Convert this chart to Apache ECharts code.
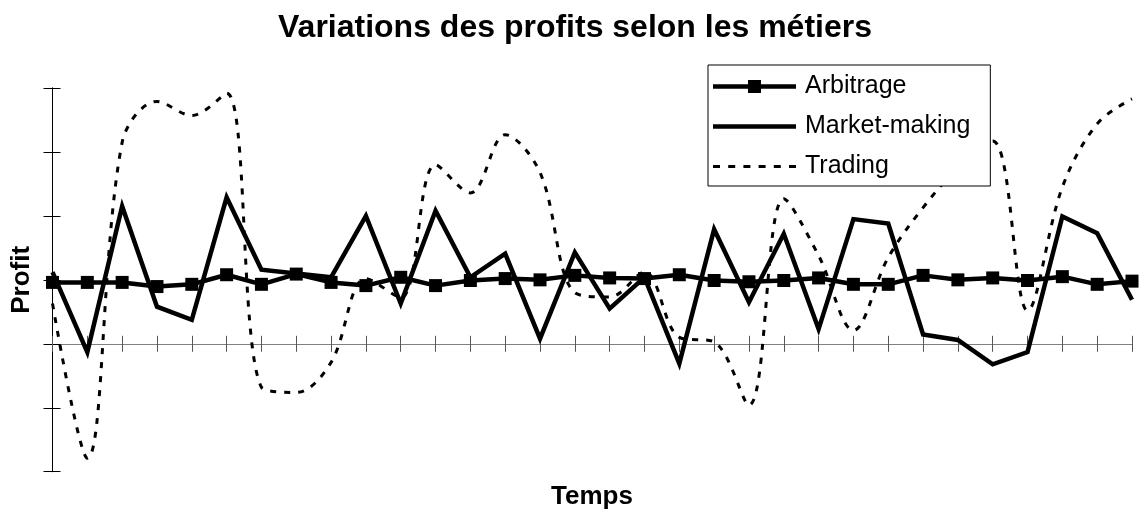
<!DOCTYPE html>
<html>
<head>
<meta charset="utf-8">
<script src="https://cdn.jsdelivr.net/npm/echarts@6/dist/echarts.min.js"></script>
<style>
html,body{margin:0;padding:0;background:#fff;}
#chart{width:1140px;height:513px;}
</style>
</head>
<body>
<div id="chart"></div>
<script>
var categories = [];
for (var k = 1; k <= 32; k++) categories.push(String(k));

var arbitrage = [0.96,0.96,0.96,0.895,0.93,1.08,0.93,1.09,0.96,0.91,1.04,0.91,0.99,1.02,1.0,1.07,1.03,1.02,1.08,0.99,0.97,0.99,1.03,0.93,0.93,1.07,1.0,1.03,0.99,1.05,0.93,0.98];
var marketMaking = [1.12,-0.13,2.15,0.58,0.375,2.29,1.16,1.1,1.04,2.0,0.63,2.08,1.04,1.41,0.08,1.43,0.55,1.04,-0.31,1.79,0.65,1.72,0.23,1.95,1.88,0.145,0.06,-0.32,-0.13,1.99,1.73,0.69];
var trading = [0.63,-1.79,3.15,3.79,3.57,3.92,-0.68,-0.76,-0.29,1.02,0.72,2.8,2.36,3.27,2.68,0.8,0.73,1.12,0.1,0.03,-0.96,2.27,1.38,0.21,1.35,2.13,2.75,3.17,0.52,2.45,3.44,3.83];

var FONT = '"Liberation Sans", Arial, sans-serif';
var chart = echarts.init(document.getElementById('chart'), null, {renderer: 'canvas'});

// legend icon shapes (line samples)
var iconArbitrage = 'path://M0 4.25H83V8.75H0Z M35 0H48V13H35Z';
var iconMarket = 'path://M0 0H83V4.5H0Z';
var dashParts = [];
for (var d = 0; d < 6; d++) {
  var x0 = (d * 15.2).toFixed(1);
  dashParts.push('M' + x0 + ' 0h7v3h-7Z');
}
var iconTrading = 'path://' + dashParts.join(' ');

var xBase = {
  type: 'category', data: categories, boundaryGap: false, position: 'bottom',
  axisLine: {show: true, onZero: true, lineStyle: {color: '#808080', width: 1}},
  axisLabel: {show: false}, splitLine: {show: false}
};
var yBase = {
  type: 'value', min: -2, max: 4, interval: 1, position: 'left',
  axisLine: {show: true, lineStyle: {color: '#000', width: 1}},
  axisLabel: {show: false}, splitLine: {show: false}
};

chart.setOption({
  animation: false,
  backgroundColor: '#fff',
  title: [
    {text: 'Variations des profits selon les métiers', left: 570, top: 7, textAlign: 'center',
     textStyle: {fontFamily: FONT, fontSize: 32, fontWeight: 'bold', color: '#000'}},
    {text: 'Temps', left: 587, top: 479, textAlign: 'center',
     textStyle: {fontFamily: FONT, fontSize: 26, fontWeight: 'bold', color: '#000'}}
  ],
  grid: {left: 52.5, right: 8, top: 88, bottom: 41.3, containLabel: false},
  legend: {
    orient: 'vertical', left: 708, top: 65,
    backgroundColor: '#fff', borderColor: '#000', borderWidth: 1,
    padding: [9, 20, 7, 5],
    itemWidth: 83, itemHeight: 14, itemGap: 15,
    textStyle: {fontFamily: FONT, fontSize: 25, color: '#000', padding: [0,0,0,4]},
    data: [
      {name: 'Arbitrage', icon: iconArbitrage},
      {name: 'Market-making', icon: iconMarket},
      {name: 'Trading', icon: iconTrading}
    ]
  },
  xAxis: [
    Object.assign({}, xBase, {axisTick: {show: true, inside: false, length: 8, interval: 0, lineStyle: {color: '#555'}}}),
    Object.assign({}, xBase, {axisTick: {show: true, inside: true, length: 8, interval: 0, lineStyle: {color: '#555'}}})
  ],
  yAxis: [
    Object.assign({}, yBase, {name: 'Profit', nameLocation: 'middle', nameGap: 18,
      nameTextStyle: {fontFamily: FONT, fontSize: 26, fontWeight: 'bold', color: '#000'},
      axisTick: {show: true, inside: false, length: 9, lineStyle: {color: '#000'}}}),
    Object.assign({}, yBase, {axisTick: {show: true, inside: true, length: 8, lineStyle: {color: '#000'}}})
  ],
  series: [
    {name: 'Trading', type: 'line', data: trading, xAxisIndex: 0, yAxisIndex: 0,
     symbol: 'none', smooth: 0.35, z: 1,
     lineStyle: {color: '#000', width: 3, type: [6, 8]}, itemStyle: {color: '#000'}},
    {name: 'Market-making', type: 'line', data: marketMaking, xAxisIndex: 0, yAxisIndex: 0,
     symbol: 'none', z: 2,
     lineStyle: {color: '#000', width: 4.5, join: 'miter'}, itemStyle: {color: '#000'}},
    {name: 'Arbitrage', type: 'line', data: arbitrage, xAxisIndex: 0, yAxisIndex: 0,
     symbol: 'rect', symbolSize: 13, showAllSymbol: true, z: 3,
     lineStyle: {color: '#000', width: 4.5}, itemStyle: {color: '#000'}}
  ]
});
</script>
</body>
</html>
